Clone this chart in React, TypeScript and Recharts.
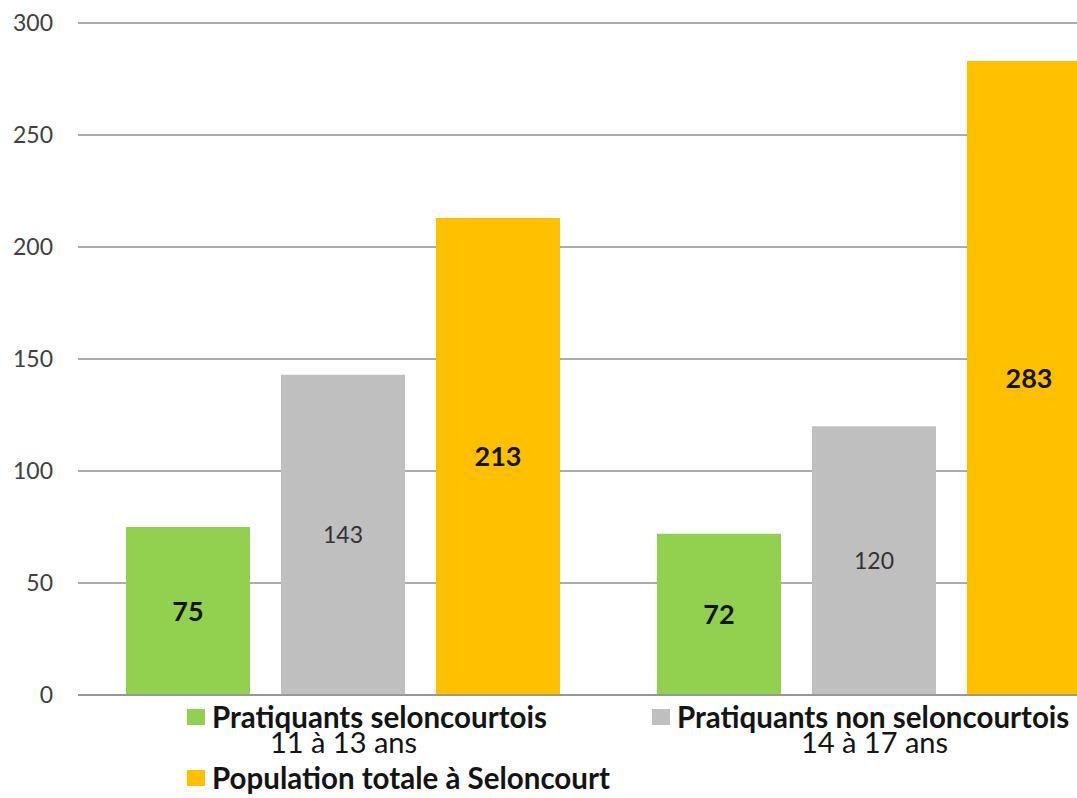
import React from 'react';
import { BarChart, Bar, XAxis, YAxis, CartesianGrid, Legend, LabelList } from 'recharts';

const categories = ['11 à 13 ans', '14 à 17 ans'];
const seloncourtois = [75, 72];
const nonSeloncourtois = [143, 120];
const populationTotale = [213, 283];
const seriesNames = ['Pratiquants seloncourtois', 'Pratiquants non seloncourtois', 'Population totale à Seloncourt'];
const yTicks = [0, 50, 100, 150, 200, 250, 300];

const chartData = categories.map((cat, i) => ({
    cat,
    sel: seloncourtois[i],
    non: nonSeloncourtois[i],
    pop: populationTotale[i],
}));

const FONT = 'Lato, "Open Sans", sans-serif';

const LegendContent = ({ payload }: any) => {
    // keep the series order, recharts sorts the legend by name otherwise
    const items = [...(payload || [])].sort(
        (a: any, b: any) => seriesNames.indexOf(a.value) - seriesNames.indexOf(b.value)
    );
    return (
        <div style={{ display: 'grid', gridTemplateColumns: '465px 420px', paddingLeft: 187, rowGap: 31, fontFamily: FONT }}>
            {items.map((entry: any) => (
                <div key={entry.value} style={{ display: 'flex', alignItems: 'center', fontSize: 29.5, fontWeight: 700, color: '#141414', lineHeight: '30px', whiteSpace: 'nowrap' }}>
                    <span style={{ display: 'inline-block', width: 18, height: 16, background: entry.color, marginRight: 7, flexShrink: 0 }} />
                    {entry.value}
                </div>
            ))}
        </div>
    );
};

const boldLabel = { fontFamily: FONT, fontSize: 27, fontWeight: 700, fill: '#141414' };
const plainLabel = { fontFamily: FONT, fontSize: 23, fontWeight: 400, fill: '#333333' };

export default function App() {
    return (
        <div style={{ position: 'absolute', left: 0, top: 0, width: 1077, height: 798, overflow: 'hidden', background: '#fff' }}>
            <BarChart width={1140} height={798} data={chartData} margin={{ top: 23, right: 0, bottom: 0, left: 0 }}
                barCategoryGap={48} barGap={31}>
                <CartesianGrid vertical={false} stroke="#8f8f8f" strokeWidth={1.3} />
                <XAxis dataKey="cat" height={103} axisLine={{ stroke: '#8f8f8f', strokeWidth: 1.3 }} tickLine={false}
                    tickSize={0} tickMargin={37} interval={0}
                    tick={{ fontFamily: FONT, fontSize: 29, fontWeight: 400, fill: '#141414' }} />
                <YAxis width={78} domain={[0, 300]} ticks={yTicks} axisLine={false} tickLine={false} tickSize={0}
                    tickMargin={25} tick={{ fontFamily: FONT, fontSize: 23, fill: '#404040' }} />
                <Legend layout="horizontal" verticalAlign="middle" align="center"
                    wrapperStyle={{ top: 702, left: 0, width: 1077 }} content={<LegendContent />} />
                <Bar dataKey="sel" name={seriesNames[0]} fill="#92D050" isAnimationActive={false}>
                    <LabelList dataKey="sel" position="center" style={boldLabel} />
                </Bar>
                <Bar dataKey="non" name={seriesNames[1]} fill="#BFBFBF" isAnimationActive={false}>
                    <LabelList dataKey="non" position="center" style={plainLabel} />
                </Bar>
                <Bar dataKey="pop" name={seriesNames[2]} fill="#FFC000" isAnimationActive={false}>
                    <LabelList dataKey="pop" position="center" style={boldLabel} />
                </Bar>
            </BarChart>
        </div>
    );
}
